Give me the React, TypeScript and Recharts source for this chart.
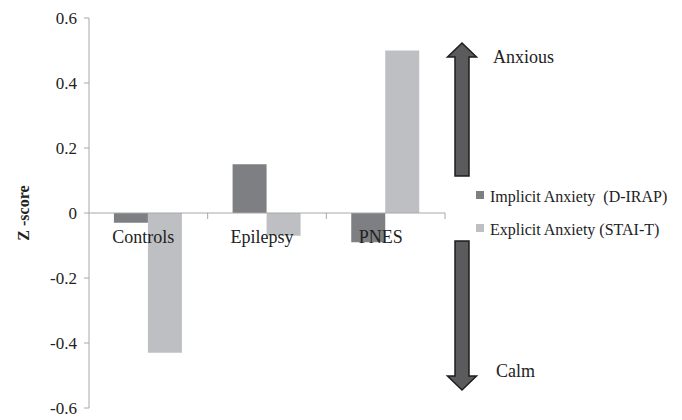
import React from "react";
import { BarChart, Bar, XAxis, YAxis, ReferenceLine } from "recharts";

const categories = ["Controls", "Epilepsy", "PNES"];
const implicitAnxiety = [-0.03, 0.15, -0.09];
const explicitAnxiety = [-0.43, -0.07, 0.5];
const yTicks = [-0.6, -0.4, -0.2, 0, 0.2, 0.4, 0.6];
const seriesNames = ["Implicit Anxiety\u00A0\u00A0(D-IRAP)", "Explicit Anxiety (STAI-T)"];

const data = categories.map((name, i) => ({
  name,
  implicit: implicitAnxiety[i],
  explicit: explicitAnxiety[i],
}));

const W = 682;
const H = 420;
const XAXIS_H = 12;
const MARGIN = { top: 18, right: 237, bottom: 0, left: 29 };
const YAXIS_W = 60;
const PLOT_LEFT = MARGIN.left + YAXIS_W;
const PLOT_W = W - MARGIN.right - PLOT_LEFT;
const PLOT_H = H - MARGIN.top - MARGIN.bottom - XAXIS_H;
const Y_MIN = -0.6;
const Y_MAX = 0.6;
const ZERO_Y = MARGIN.top + (PLOT_H * Y_MAX) / (Y_MAX - Y_MIN);
const BAND = PLOT_W / categories.length;
const FONT = "Liberation Serif";
const AXIS_COLOR = "#a8a8a8";
const C_IMPLICIT = "#7e7f82";
const C_EXPLICIT = "#bebfc2";
const colors = [C_IMPLICIT, C_EXPLICIT];

const CategoryTick = (props: any) => {
  const { x, payload } = props;
  return (
    <g>
      <line x1={x + BAND / 2} x2={x + BAND / 2} y1={ZERO_Y} y2={ZERO_Y + 6} stroke={AXIS_COLOR} strokeWidth={1} />
      <text x={x - 5} y={ZERO_Y + 30} textAnchor="middle" fontFamily={FONT} fontSize={18} fill="#222">
        {payload.value}
      </text>
    </g>
  );
};

const YTick = (props: any) => {
  const { x, y, payload } = props;
  const v = payload.value as number;
  return (
    <text x={x} y={y} dy="0.35em" textAnchor="end" fontFamily={FONT} fontSize={17} fill="#222">
      {v === 0 ? "0" : v.toFixed(1)}
    </text>
  );
};

const Overlay = () => (
  <svg width={W} height={H} style={{ position: "absolute", left: 0, top: 0, pointerEvents: "none" }}>
    <polygon
      points="462,43 476.5,57 469,57 469,176 455,176 455,57 447.5,57"
      fill="#5b5b5d"
      stroke="#1e1e1e"
      strokeWidth={1.5}
    />
    <polygon
      points="455,241 469,241 469,376 476.5,376 462,390 447.5,376 455,376"
      fill="#5b5b5d"
      stroke="#1e1e1e"
      strokeWidth={1.5}
    />
    <text x={493} y={63} fontFamily={FONT} fontSize={18} fill="#222">Anxious</text>
    <text x={496} y={377} fontFamily={FONT} fontSize={18} fill="#222">Calm</text>
    {seriesNames.map((n, i) => (
      <g key={n}>
        <rect x={476} y={191 + i * 33} width={8} height={8} fill={colors[i]} />
        <text x={490} y={202 + i * 33} fontFamily={FONT} fontSize={16} fill="#222" style={{ whiteSpace: "pre" }}>
          {n}
        </text>
      </g>
    ))}
  </svg>
);

export default function App() {
  return (
    <div style={{ position: "absolute", left: 0, top: 0, width: W, height: H, background: "#fff", fontFamily: FONT }}>
      <BarChart width={W} height={H} data={data} margin={MARGIN} barCategoryGap="21%" barGap={0}>
        <YAxis
          width={YAXIS_W}
          domain={[Y_MIN, Y_MAX]}
          ticks={yTicks}
          type="number"
          allowDataOverflow
          stroke={AXIS_COLOR}
          tickSize={5}
          tickMargin={7}
          tick={<YTick />}
          label={{
            value: "Z -score",
            angle: -90,
            position: "insideLeft",
            offset: 0,
            style: { fontFamily: FONT, fontSize: 16, fontWeight: "bold", fill: "#222", textAnchor: "middle" },
            dx: -6,
          }}
        />
        <XAxis dataKey="name" height={XAXIS_H} axisLine={false} tickLine={false} tick={<CategoryTick />} interval={0} />
        <ReferenceLine y={0} stroke={AXIS_COLOR} strokeWidth={1} />
        <Bar dataKey="implicit" name={seriesNames[0]} fill={C_IMPLICIT} isAnimationActive={false} />
        <Bar dataKey="explicit" name={seriesNames[1]} fill={C_EXPLICIT} isAnimationActive={false} />
      </BarChart>
      <Overlay />
    </div>
  );
}
